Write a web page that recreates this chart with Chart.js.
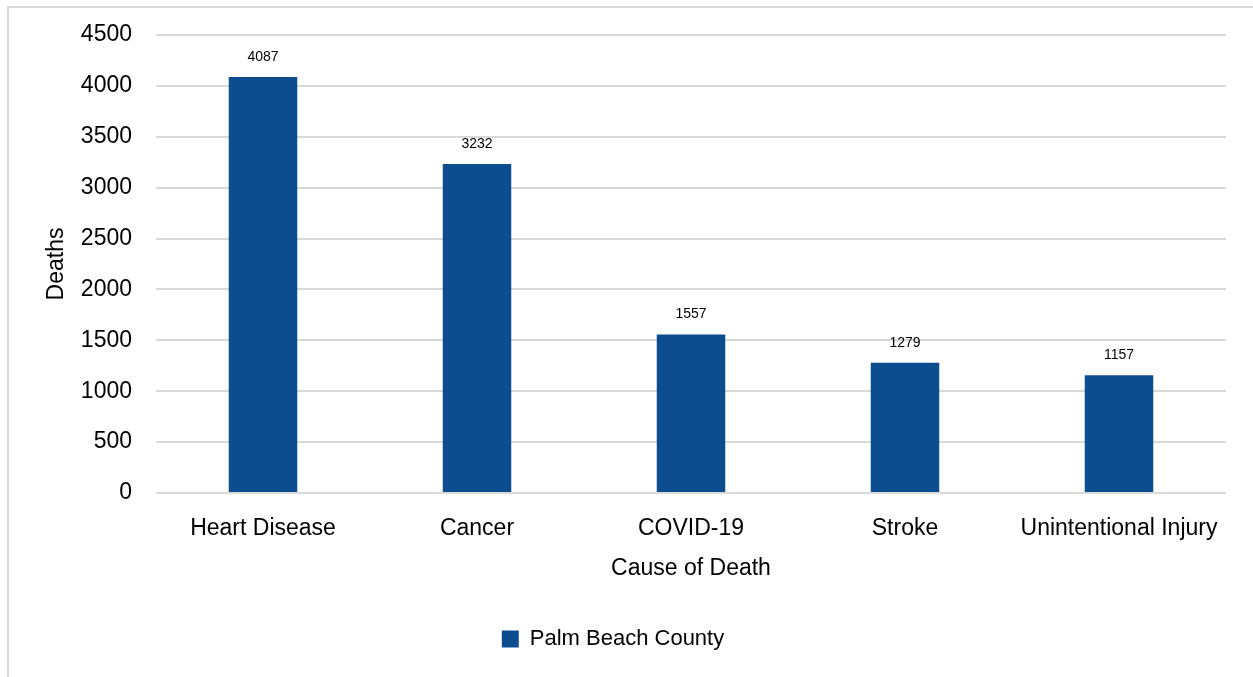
<!DOCTYPE html>
<html>
<head>
<meta charset="utf-8">
<script src="https://cdn.jsdelivr.net/npm/chart.js@4/dist/chart.umd.min.js"></script>
<style>
  html, body { margin: 0; padding: 0; background: #fff; overflow: hidden; }
  #frame {
    position: absolute; left: 7px; top: 6px; width: 1260px; height: 690px;
    border: 2px solid #d9d9d9; box-sizing: border-box;
  }
  #wrap { position: absolute; left: 0; top: 0; width: 1253px; height: 677px; }
</style>
</head>
<body>
<div id="frame"></div>
<div id="wrap"><canvas id="deathsChart" width="1253" height="677"></canvas></div>
<script>
// dados do gráfico
const causes = ['Heart Disease', 'Cancer', 'COVID-19', 'Stroke', 'Unintentional Injury'];
const palmBeachDeaths = [4087, 3232, 1557, 1279, 1157];
const yTicks = [0, 500, 1000, 1500, 2000, 2500, 3000, 3500, 4000, 4500];

const FONT = "'Liberation Sans', Arial, sans-serif";
const BAR_COLOR = '#0c4d8f';

// rótulos de valor acima das barras
const valueLabels = {
    id: 'valueLabels',
    afterDatasetsDraw(chart) {
        const ctx = chart.ctx;
        const meta = chart.getDatasetMeta(0);
        ctx.save();
        ctx.font = '14px ' + FONT;
        ctx.fillStyle = '#000';
        ctx.textAlign = 'center';
        ctx.textBaseline = 'middle';
        meta.data.forEach((bar, i) => {
            ctx.fillText(String(palmBeachDeaths[i]), bar.x, bar.y - 20);
        });
        ctx.restore();
    }
};

new Chart(document.getElementById('deathsChart'), {
    type: 'bar',
    data: {
        labels: causes,
        datasets: [{
            label: 'Palm Beach County',
            data: palmBeachDeaths,
            backgroundColor: BAR_COLOR,
            borderWidth: 0,
            categoryPercentage: 1,
            barPercentage: 0.32
        }]
    },
    options: {
        responsive: false,
        animation: false,
        devicePixelRatio: 1,
        layout: {
            padding: { left: 0, right: 27, top: 35, bottom: 17 }
        },
        scales: {
            x: {
                grid: { display: false, drawTicks: false },
                border: { display: false },
                ticks: {
                    color: '#000',
                    font: { family: FONT, size: 23 },
                    padding: 22,
                    maxRotation: 0,
                    autoSkip: false
                },
                title: {
                    display: true,
                    text: 'Cause of Death',
                    color: '#000',
                    font: { family: FONT, size: 23 },
                    padding: { top: 0, bottom: 26 }
                },
                afterFit(scale) { scale.height = 115; }
            },
            y: {
                min: 0,
                max: 4500,
                afterBuildTicks(scale) {
                    scale.ticks = yTicks.map(v => ({ value: v }));
                },
                grid: { color: '#d9d9d9', lineWidth: 2, drawTicks: false },
                border: { display: false },
                ticks: {
                    color: '#000',
                    font: { family: FONT, size: 23 },
                    padding: 24,
                    callback: value => String(value)
                },
                title: {
                    display: true,
                    text: 'Deaths',
                    color: '#000',
                    font: { family: FONT, size: 23 },
                    padding: { top: 43, bottom: 0 }
                },
                afterFit(scale) {
                    scale.width = 156;
                    scale.paddingTop = 0;
                    scale.paddingBottom = 0;
                }
            }
        },
        plugins: {
            legend: {
                display: true,
                position: 'bottom',
                labels: {
                    color: '#000',
                    font: { family: FONT, size: 22 },
                    boxWidth: 17,
                    boxHeight: 17,
                    padding: 20
                }
            },
            tooltip: { enabled: false }
        }
    },
    plugins: [valueLabels]
});
</script>
</body>
</html>
